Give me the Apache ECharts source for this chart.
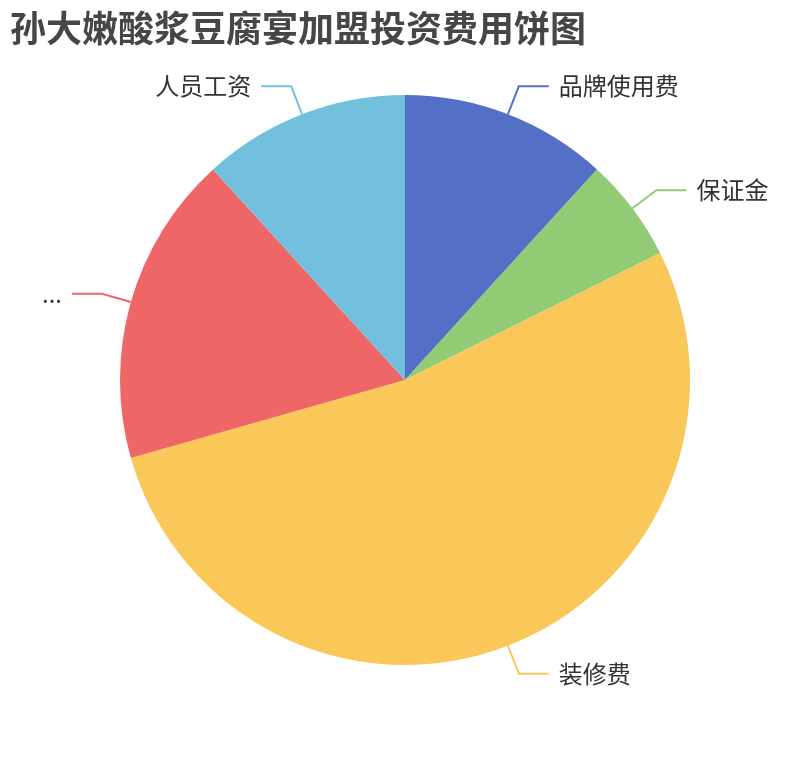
<!DOCTYPE html>
<html>
<head>
<meta charset="utf-8">
<script src="https://cdn.jsdelivr.net/npm/echarts@6/dist/echarts.min.js"></script>
<style>
html,body{margin:0;padding:0;background:#fff;}
#chart{width:810px;height:760px;}
</style>
</head>
<body>
<div id="chart"></div>
<script>
const titleText = '孙大嫩酸浆豆腐宴加盟投资费用饼图';
const categories = ['品牌使用费', '保证金', '装修费', '店面租金及设备采购费', '人员工资'];
const values = [2, 1, 9, 3, 2];
const palette = ['#5470c6', '#91cc75', '#fac858', '#ee6666', '#73c0de'];

const chart = echarts.init(document.getElementById('chart'));
chart.setOption({
  animation: false,
  color: palette,
  textStyle: { fontFamily: '"Noto Sans CJK SC", sans-serif' },
  title: {
    text: titleText,
    left: 0,
    top: 0,
    padding: 10,
    textStyle: { fontSize: 36, fontWeight: 'bold', color: '#464646', fontFamily: '"Noto Sans CJK SC", sans-serif' }
  },
  series: [{
    type: 'pie',
    radius: [0, '75%'],
    center: ['50%', '50%'],
    startAngle: 90,
    label: {
      show: true,
      fontSize: 24,
      color: '#333',
      bleedMargin: 20,
      distanceToLabelLine: 10,
      fontFamily: '"Noto Sans CJK SC", sans-serif'
    },
    labelLine: { length: 30, length2: 30, lineStyle: { width: 2 } },
    data: categories.map((n, i) => ({ name: n, value: values[i] }))
  }]
});
</script>
</body>
</html>
